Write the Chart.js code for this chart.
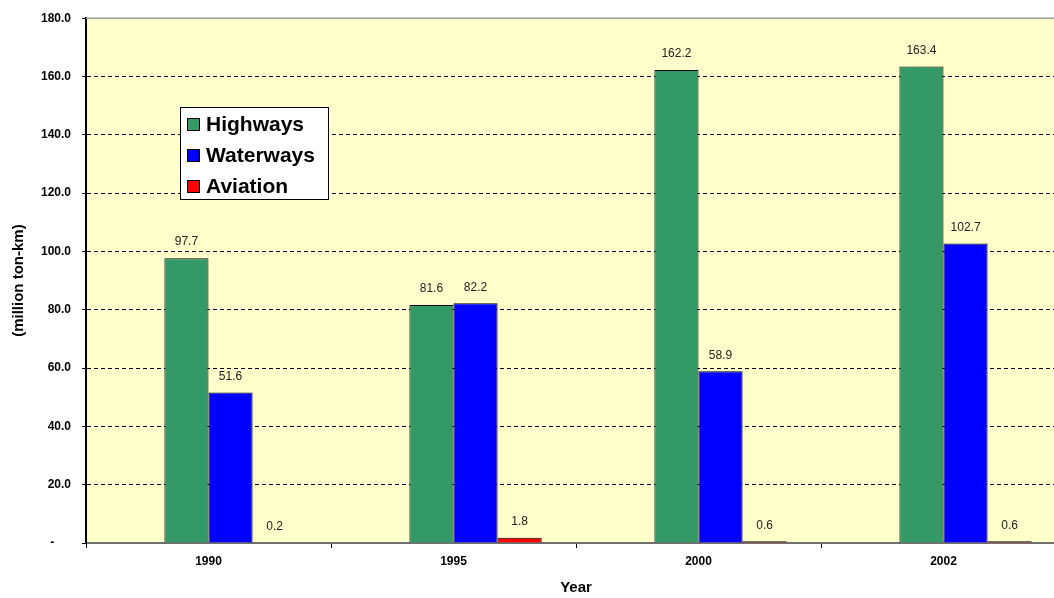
<!DOCTYPE html>
<html>
<head>
<meta charset="utf-8">
<title>Freight transport by mode</title>
<script src="https://cdn.jsdelivr.net/npm/chart.js@4/dist/chart.umd.min.js"></script>
<style>
  html, body { margin: 0; padding: 0; background: #fff; width: 1054px; height: 598px; overflow: hidden; }
  canvas { display: block; }
</style>
</head>
<body>
<canvas id="chart" width="1070" height="598"></canvas>
<script>
// Freight volume by mode (million ton-km)
const years = ['1990', '1995', '2000', '2002'];
const highways = [97.7, 81.6, 162.2, 163.4];
const waterways = [51.6, 82.2, 58.9, 102.7];
const aviation = [0.2, 1.8, 0.6, 0.6];
const emptySlot = [null, null, null, null];

// Value axis
const yMin = 0;
const yMax = 180;
const yStep = 20;
const zeroTickLabel = '-     ';

const FONT = "'Liberation Sans', Arial, sans-serif";

// Yellow plot area with a grey top edge
const plotBackground = {
  id: 'plotBackground',
  beforeDraw(chart) {
    const { ctx, chartArea: a } = chart;
    ctx.save();
    ctx.fillStyle = '#FFFFCC';
    ctx.fillRect(a.left, a.top, a.right - a.left, a.bottom - a.top);
    ctx.restore();
  },
  afterDraw(chart) {
    const { ctx, chartArea: a } = chart;
    ctx.save();
    ctx.strokeStyle = '#9a9a9a';
    ctx.lineWidth = 1.5;
    ctx.beginPath();
    ctx.moveTo(a.left, a.top);
    ctx.lineTo(a.right, a.top);
    ctx.stroke();
    ctx.restore();
  }
};

// Numbers printed above each bar
const valueLabels = {
  id: 'valueLabels',
  afterDatasetsDraw(chart) {
    const { ctx } = chart;
    ctx.save();
    ctx.font = '12px ' + FONT;
    ctx.fillStyle = '#222';
    ctx.textAlign = 'center';
    ctx.textBaseline = 'middle';
    chart.data.datasets.forEach((ds, i) => {
      if (!ds.label) return;
      const meta = chart.getDatasetMeta(i);
      meta.data.forEach((bar, j) => {
        const v = ds.data[j];
        if (v == null) return;
        ctx.fillText(v.toFixed(1), bar.x, bar.y - 16);
      });
    });
    ctx.restore();
  }
};

// Boxed legend floating inside the plot area
const boxLegend = {
  id: 'boxLegend',
  afterDraw(chart) {
    const { ctx } = chart;
    const items = chart.data.datasets.filter(d => d.label);
    const x = 180, y = 107, w = 148, h = 92;
    const rowGap = 31, firstRow = 124;
    ctx.save();
    ctx.fillStyle = '#fff';
    ctx.fillRect(x, y, w, h);
    ctx.strokeStyle = '#000';
    ctx.lineWidth = 1;
    ctx.strokeRect(x + 0.5, y + 0.5, w, h);
    ctx.font = 'bold 21px ' + FONT;
    ctx.textBaseline = 'middle';
    ctx.textAlign = 'left';
    items.forEach((d, i) => {
      const cy = firstRow + i * rowGap;
      ctx.fillStyle = d.backgroundColor;
      ctx.fillRect(187, cy - 6, 13, 13);
      ctx.strokeStyle = '#000';
      ctx.strokeRect(187.5, cy - 5.5, 12, 12);
      ctx.fillStyle = '#000';
      ctx.fillText(d.label, 206, cy + 1);
    });
    ctx.restore();
  }
};

const barStyle = { borderColor: '#000', borderWidth: 1 };

new Chart(document.getElementById('chart'), {
  type: 'bar',
  data: {
    labels: years,
    datasets: [
      { label: '', data: emptySlot, backgroundColor: 'rgba(0,0,0,0)', borderWidth: 0 },
      Object.assign({ label: 'Highways', data: highways, backgroundColor: '#339966' }, barStyle),
      Object.assign({ label: 'Waterways', data: waterways, backgroundColor: '#0000FF' }, barStyle),
      Object.assign({ label: 'Aviation', data: aviation, backgroundColor: '#FF0000' }, barStyle)
    ]
  },
  options: {
    responsive: false,
    animation: false,
    devicePixelRatio: 1,
    categoryPercentage: 0.72,
    barPercentage: 1.0,
    layout: { padding: { top: 14, right: 4, left: 0, bottom: 0 } },
    plugins: {
      legend: { display: false },
      tooltip: { enabled: false }
    },
    scales: {
      x: {
        grid: { offset: true, drawOnChartArea: false, drawTicks: true, tickLength: 5, tickColor: '#000', tickWidth: 1 },
        border: { color: '#707070', width: 2 },
        ticks: { font: { family: FONT, size: 12, weight: 'bold' }, color: '#000', padding: 6, maxRotation: 0 },
        title: { display: true, text: 'Year', color: '#000', font: { family: FONT, size: 15, weight: 'bold' }, padding: { top: 0, bottom: 1 } },
        afterFit(scale) { scale.height = 55; }
      },
      y: {
        min: yMin,
        max: yMax,
        ticks: {
          stepSize: yStep,
          font: { family: FONT, size: 12, weight: 'bold' },
          color: '#000',
          padding: 11,
          callback: v => (v === 0 ? zeroTickLabel : v.toFixed(1))
        },
        grid: {
          color: c => (c.tick && (c.tick.value === yMin || c.tick.value === yMax)) ? 'rgba(0,0,0,0)' : '#000',
          lineWidth: 1,
          tickColor: '#000',
          tickLength: 4,
          tickBorderDash: []
        },
        border: { color: '#000', width: 2, dash: [4, 3] },
        title: { display: true, text: '(million ton-km)', color: '#000', font: { family: FONT, size: 15, weight: 'bold' }, padding: { top: 10, bottom: 0 } },
        afterFit(scale) { scale.width = 86; }
      }
    }
  },
  plugins: [plotBackground, valueLabels, boxLegend]
});
</script>
</body>
</html>
